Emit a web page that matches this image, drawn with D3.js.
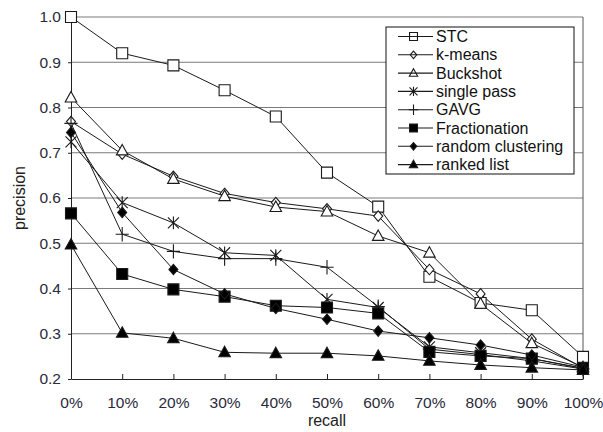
<!DOCTYPE html>
<html>
<head>
<meta charset="utf-8">
<script src="https://cdn.jsdelivr.net/npm/d3@7"></script>
<style>
  body { margin: 0; background: #fff; }
  text { font-family: Arial, "Liberation Sans", sans-serif; }
</style>
</head>
<body>
<div id="chart"></div>
<script>
const recall = ['0%', '10%', '20%', '30%', '40%', '50%', '60%', '70%', '80%', '90%', '100%']
const yTicks = [0.2, 0.3, 0.4, 0.5, 0.6, 0.7, 0.8, 0.9, 1.0]

const stc = [1.0, 0.92, 0.893, 0.838, 0.78, 0.656, 0.581, 0.426, 0.368, 0.352, 0.249]
const kmeans = [0.769, 0.697, 0.648, 0.61, 0.59, 0.576, 0.56, 0.442, 0.388, 0.288, 0.224]
const buckshot = [0.822, 0.705, 0.642, 0.604, 0.58, 0.57, 0.516, 0.479, 0.366, 0.279, 0.226]
const singlePass = [0.724, 0.59, 0.545, 0.479, 0.473, 0.376, 0.358, 0.271, 0.258, 0.245, 0.223]
const gavg = [0.765, 0.52, 0.482, 0.466, 0.466, 0.447, 0.36, 0.266, 0.254, 0.24, 0.222]
const fractionation = [0.566, 0.432, 0.398, 0.382, 0.362, 0.358, 0.345, 0.26, 0.251, 0.245, 0.224]
const randomClustering = [0.745, 0.568, 0.442, 0.388, 0.356, 0.332, 0.306, 0.291, 0.275, 0.253, 0.226]
const rankedList = [0.497, 0.302, 0.29, 0.259, 0.257, 0.257, 0.251, 0.24, 0.231, 0.225, 0.22]

const names = ['STC', 'k-means', 'Buckshot', 'single pass', 'GAVG', 'Fractionation', 'random clustering', 'ranked list']
const markers = ['square', 'diamond', 'triangle', 'asterisk', 'plus', 'squareFilled', 'diamondFilled', 'triangleFilled']
const seriesValues = [stc, kmeans, buckshot, singlePass, gavg, fractionation, randomClustering, rankedList]

const series = names.map((name, i) => ({ name, marker: markers[i], values: seriesValues[i] }))

const CONFIG = {
    width: 603,
    height: 432,
    margin: { top: 17, right: 20, bottom: 53, left: 71 }
}
const innerW = CONFIG.width - CONFIG.margin.left - CONFIG.margin.right
const innerH = CONFIG.height - CONFIG.margin.top - CONFIG.margin.bottom

const svg = d3.select('#chart')
    .append('svg')
    .attr('width', CONFIG.width)
    .attr('height', CONFIG.height)

const g = svg.append('g')
    .attr('transform', `translate(${CONFIG.margin.left}, ${CONFIG.margin.top})`)

const x = d3.scalePoint()
    .domain(recall)
    .range([0, innerW])

const y = d3.scaleLinear()
    .domain([0.2, 1.0])
    .range([innerH, 0])

// gridlines
g.append('g')
    .selectAll('line')
    .data(yTicks.slice(1))
    .enter()
    .append('line')
    .attr('x1', 0)
    .attr('x2', innerW)
    .attr('y1', d => y(d))
    .attr('y2', d => y(d))
    .attr('stroke', '#7a7a7a')
    .attr('stroke-width', 1)

// right border
g.append('line')
    .attr('x1', innerW).attr('x2', innerW)
    .attr('y1', 0).attr('y2', innerH)
    .attr('stroke', '#555')

// axes
const yAxis = g.append('g')
    .call(d3.axisLeft(y).tickValues(yTicks).tickFormat(d3.format('.1f')).tickSize(3).tickSizeOuter(0))
yAxis.select('.domain').attr('stroke', '#222')
yAxis.selectAll('line').attr('stroke', '#222')
yAxis.selectAll('text')
    .attr('font-size', '15.5px')
    .attr('fill', '#2a2a3a')
    .attr('x', -10)

const xAxis = g.append('g')
    .attr('transform', `translate(0, ${innerH})`)
    .call(d3.axisBottom(x).tickSize(-5).tickSizeOuter(0))
xAxis.select('.domain').attr('stroke', '#222')
xAxis.selectAll('line').attr('stroke', '#222')
xAxis.selectAll('text')
    .attr('font-size', '15.5px')
    .attr('fill', '#2a2a3a')
    .attr('y', 18)

// axis titles
svg.append('text')
    .attr('x', CONFIG.margin.left + innerW / 2)
    .attr('y', 426)
    .attr('text-anchor', 'middle')
    .attr('font-size', '16px')
    .attr('fill', '#222')
    .text('recall')

svg.append('text')
    .attr('transform', 'translate(25, 198) rotate(-90)')
    .attr('text-anchor', 'middle')
    .attr('font-size', '16px')
    .attr('fill', '#222')
    .text('precision')

// marker shapes
function markerPath(type, s) {
    switch (type) {
        case 'square':
        case 'squareFilled':
            return `M${-s},${-s}H${s}V${s}H${-s}Z`
        case 'diamond':
        case 'diamondFilled':
            return `M0,${-s * 1.05}L${s * 0.9},0L0,${s * 1.05}L${-s * 0.9},0Z`
        case 'triangle':
        case 'triangleFilled':
            return `M0,${-s * 1.1}L${s * 1.05},${s * 0.8}L${-s * 1.05},${s * 0.8}Z`
        case 'asterisk':
            return `M${-s},${-s}L${s},${s}M${-s},${s}L${s},${-s}M0,${-s * 1.15}V${s * 1.15}`
        case 'plus':
            return `M${-s * 1.1},0H${s * 1.1}M0,${-s * 1.2}V${s * 1.2}`
    }
}
const isFilled = (t) => t.endsWith('Filled')
const markerSize = { square: 5.5, squareFilled: 5.5, diamond: 5, diamondFilled: 5, triangle: 5.5, triangleFilled: 5.5, asterisk: 5.5, plus: 6 }

const line = d3.line()
    .x((d, i) => x(recall[i]))
    .y(d => y(d))

const lines = g.append('g')
lines.selectAll('path')
    .data(series)
    .enter()
    .append('path')
    .attr('d', d => line(d.values))
    .attr('fill', 'none')
    .attr('stroke', '#1a1a1a')
    .attr('stroke-width', 1)

const points = g.append('g')
series.forEach(s => {
    points.append('g')
        .selectAll('path')
        .data(s.values)
        .enter()
        .append('path')
        .attr('transform', (d, i) => `translate(${x(recall[i])}, ${y(d)})`)
        .attr('d', markerPath(s.marker, markerSize[s.marker]))
        .attr('fill', isFilled(s.marker) ? '#000' : (s.marker === 'asterisk' || s.marker === 'plus' ? 'none' : '#fff'))
        .attr('stroke', '#1a1a1a')
        .attr('stroke-width', 1.1)
})

// legend
const legend = svg.append('g')
    .attr('transform', 'translate(386, 27)')

legend.append('rect')
    .attr('width', 188)
    .attr('height', 147)
    .attr('fill', '#fff')
    .attr('stroke', '#111')
    .attr('stroke-width', 1)

const items = legend.selectAll('.legend')
    .data(series)
    .enter()
    .append('g')
    .classed('legend', true)
    .attr('transform', (d, i) => `translate(0, ${9.5 + i * 18.3})`)

items.append('line')
    .attr('x1', 12).attr('x2', 47)
    .attr('stroke', '#1a1a1a')
    .attr('stroke-width', 1.1)

items.append('path')
    .attr('transform', 'translate(27.5, 0)')
    .attr('d', d => markerPath(d.marker, markerSize[d.marker] * 0.72))
    .attr('fill', d => isFilled(d.marker) ? '#000' : 'none')
    .attr('stroke', '#1a1a1a')
    .attr('stroke-width', 1.1)

items.append('text')
    .attr('x', 50)
    .attr('y', 5.5)
    .attr('font-size', '16px')
    .attr('fill', '#111')
    .text(d => d.name)
</script>
</body>
</html>
